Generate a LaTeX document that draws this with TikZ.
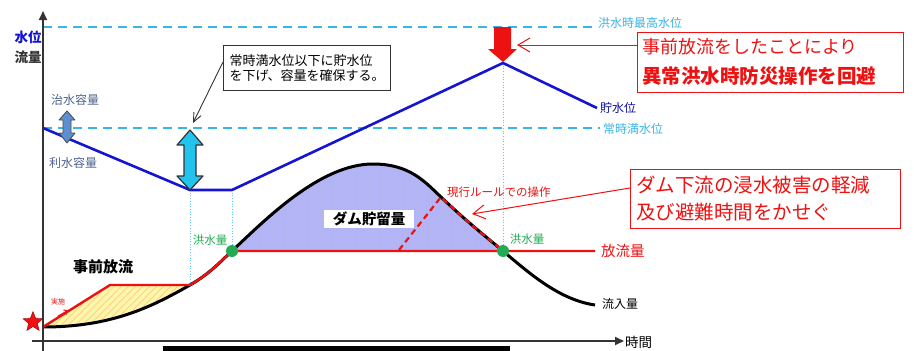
\documentclass[tikz,border=0pt]{standalone}
\usepackage{fontspec}
\newfontfamily\jp{Noto Sans CJK JP}
\usetikzlibrary{arrows.meta,patterns,patterns.meta,shapes.geometric}
\definecolor{wl}{HTML}{1414D2}
\definecolor{lvlc}{HTML}{3CB4E6}
\definecolor{cyanA}{HTML}{22C4EE}
\definecolor{steel}{HTML}{5B8FD0}
\definecolor{grn}{HTML}{22AA55}
\definecolor{lav}{HTML}{B4B6F4}
\definecolor{yel}{HTML}{FFF7A8}
\definecolor{rd}{HTML}{EE1111}
\definecolor{lbl}{HTML}{50648C}
\definecolor{axc}{HTML}{333333}
\tikzset{
  lvlline/.style={lvlc, line width=2pt, dash pattern=on 9pt off 6pt},
  guide/.style={lvlc!80, line width=0.7pt, dotted},
  lab/.style={inner sep=0pt, font=\jp\fontsize{12}{14}\selectfont},
  bigred/.style={inner sep=0pt, align=left, text=rd},
  gdot/.style={circle, fill=grn, minimum size=12pt, inner sep=0pt},
  callout/.style={draw=rd, line width=1pt, fill=white},
}
\begin{document}
\begin{tikzpicture}[x=1pt,y=-1pt]
\useasboundingbox[fill=white] (0,0) rectangle (914,351);

% coordinates
\coordinate (o) at (43,327);
\coordinate (r1) at (110,285);
\coordinate (m1) at (190,285);
\coordinate (g1) at (232,251);
\coordinate (pk) at (373,164);
\coordinate (d1) at (441,197);
\coordinate (g2) at (503,251);
\coordinate (inEnd) at (595,305);
\coordinate (rEnd) at (595,251);
\coordinate (dashStart) at (399,250);

% regions
\fill[yel] (o) -- (r1) -- (m1) .. controls (150,308) and (110,327) .. (o) -- cycle;
\fill[pattern={Lines[angle=45,distance=5pt,line width=0.7pt]}, pattern color=orange!45] (o) -- (r1) -- (m1) .. controls (150,308) and (110,327) .. (o) -- cycle;
\fill[lav] (g1) .. controls (265,220) and (320,164) .. (pk) .. controls (410,164) and (425,182) .. (d1) .. controls (465,220) and (485,236) .. (g2) -- cycle;
\fill[pattern={Lines[angle=90,distance=3pt,line width=0.4pt]}, pattern color=lav!80!blue!70] (g1) .. controls (265,220) and (320,164) .. (pk) .. controls (410,164) and (425,182) .. (d1) .. controls (465,220) and (485,236) .. (g2) -- cycle;

% level lines
\coordinate (hwl0) at (43,27);
\coordinate (hwl1) at (598,27);
\coordinate (nwl0) at (43,128);
\coordinate (nwl1) at (600,128);
\draw[lvlline] (hwl0) -- (hwl1);
\draw[lvlline] (nwl0) -- (nwl1);
\node[lab, text=lvlc, anchor=west] (hwlT) at (598,23) {洪水時最高水位};
\node[lab, text=lvlc, anchor=west] (nwlT) at (603,129) {常時満水位};

% guides
\coordinate (w1) at (190,190);
\coordinate (w2) at (232,190);
\coordinate (w3) at (503,63);
\coordinate (w4) at (597,108);
\draw[guide] (w1) -- (m1);
\draw[guide] (w2) -- (g1);
\draw[guide] (w3) -- (g2);

% water level
\draw[wl, line width=2.6pt, line join=round] (nwl0) -- (w1) -- (w2) -- (w3) -- (w4);
\node[lab, text=wl!80!black, anchor=west] (wlT) at (600,108) {貯水位};

% inflow curve
\draw[black, line width=3pt] (o) .. controls (110,327) and (150,308) .. (m1)
  .. controls (210,273.5) and (220,262) .. (g1)
  .. controls (265,220) and (320,164) .. (pk)
  .. controls (410,164) and (425,182) .. (d1)
  .. controls (465,220) and (485,236) .. (g2)
  .. controls (530,274) and (560,300) .. (inEnd);
\node[lab, anchor=west] (inT) at (602,304) {流入量};

% release line
\draw[rd, line width=2.4pt, line join=round] (o) -- (r1) -- (m1) .. controls (210,273.5) and (220,262) .. (g1) -- (rEnd);
\node[lab, text=rd, anchor=west, font=\jp\fontsize{14.5}{16}\selectfont] (rT) at (601,251) {放流量};

% current-rule dashed
\draw[rd, line width=2.2pt, dash pattern=on 6pt off 4pt] (dashStart) -- (d1) .. controls (465,220) and (485,236) .. (g2);
\node[lab, text=rd, anchor=west, font=\jp\fontsize{11.5}{13}\selectfont] (ruleT) at (447,192) {現行ルールでの操作};

% green dots
\node[gdot] (gd1) at (g1) {};
\node[gdot] (gd2) at (g2) {};
\node[lab, text=grn, font=\jp\fontsize{11.5}{13}\selectfont] (fq1) at (210,240) {洪水量};
\node[lab, text=grn, font=\jp\fontsize{11.5}{13}\selectfont] (fq2) at (527,239) {洪水量};

% storage label
\node[fill=white, inner xsep=9pt, inner ysep=2pt, font=\jp\bfseries\fontsize{14.5}{16}\selectfont] (stor) at (369,219) {ダム貯留量};

% pre-release label
\node[lab, font=\jp\bfseries\fontsize{15}{17}\selectfont] (preT) at (103,267) {事前放流};
\node[lab, text=rd, font=\jp\fontsize{7}{8}\selectfont] (jisshi) at (58,302) {実施};
\coordinate (sa0) at (58,316);
\coordinate (sa1) at (69,310);
\draw[rd, line width=1pt, -{Straight Barb[length=4pt,width=5pt]}] (sa0) -- (sa1);

% star
\node[star, star points=5, star point ratio=2.3, fill=rd, draw=red!60!black, minimum size=21pt, inner sep=0pt] (st) at (33,322) {};

% axes
\coordinate (ya0) at (43,351);
\coordinate (ya1) at (43,11);
\coordinate (xa0) at (32,341);
\coordinate (xa1) at (624,341);
\draw[axc, line width=2pt, -{Triangle[length=9pt,width=8pt]}] (ya0) -- (ya1);
\draw[axc, line width=2pt, -{Triangle[length=9pt,width=8pt]}] (xa0) -- (xa1);
\node[lab, anchor=west, font=\jp\fontsize{13.5}{15}\selectfont] (tT) at (625,342) {時間};
\node[lab, text=wl, font=\jp\bfseries\fontsize{13.5}{15}\selectfont] (yT1) at (28,37) {水位};
\node[lab, text=axc, font=\jp\bfseries\fontsize{13.5}{15}\selectfont] (yT2) at (28,57) {流量};

% capacity labels and small double arrow
\node[lab, text=lbl] (cap1) at (75,100) {治水容量};
\node[lab, text=lbl] (cap2) at (73,163) {利水容量};
\draw[fill=steel, draw=black!70, line width=0.8pt, line join=round]
  (67,111) -- (75,120) -- (71,120) -- (71,133) -- (75,133) -- (67,143) -- (59,133) -- (63,133) -- (63,120) -- (59,120) -- cycle;

% cyan double arrow
\draw[fill=cyanA, draw=black!80, line width=1.2pt, line join=round]
  (190,130) -- (203,145) -- (196,145) -- (196,176) -- (203,176) -- (190,190) -- (177,176) -- (184,176) -- (184,145) -- (177,145) -- cycle;

% callout box (black)
\node[draw=black!80, line width=1pt, fill=white, align=left, inner xsep=6pt, inner ysep=3pt,
      font=\jp\fontsize{13}{15.5}\selectfont, minimum width=160pt, minimum height=45pt, anchor=north west] (box1) at (223,45)
  {常時満水位以下に貯水位\\を下げ、容量を確保する。};
\coordinate (b1tip) at (193,123);
\draw[black!80, line width=0.9pt, -{Straight Barb[length=9pt,width=8pt]}] (box1.west |- 0,62) -- (b1tip);

% red down arrow
\fill[rd] (494,27) -- (511,27) -- (511,49) -- (517,49) -- (503,62) -- (488,49) -- (494,49) -- cycle;

% red callout 1
\node[callout, minimum width=266pt, minimum height=60pt, anchor=north west] (rbox1) at (637,32) {};
\node[bigred, anchor=west, font=\jp\fontsize{18}{20}\selectfont] (r1a) at (642,47) {事前放流をしたことにより};
\node[bigred, anchor=west, font=\jp\bfseries\fontsize{19.5}{21}\selectfont] (r1b) at (642,76) {異常洪水時防災操作を回避};
\coordinate (rb1tip) at (517,45);
\draw[rd, line width=1pt, -{Straight Barb[length=12pt,width=14pt]}] (rbox1.west |- 0,45) -- (rb1tip);

% red callout 2
\node[callout, minimum width=270pt, minimum height=59pt, anchor=north west] (rbox2) at (630,169) {};
\node[bigred, anchor=west, font=\jp\fontsize{19.5}{21}\selectfont] (r2a) at (636,185) {ダム下流の浸水被害の軽減};
\node[bigred, anchor=west, font=\jp\fontsize{19.5}{21}\selectfont] (r2b) at (636,212) {及び避難時間をかせぐ};
\coordinate (rb2tip) at (472,214);
\draw[rd, line width=1pt, -{Straight Barb[length=12pt,width=14pt]}] (rbox2.west |- 0,188) -- (rb2tip);

% bottom bar
\fill[black] (163,346) rectangle (510,351);
\end{tikzpicture}
\end{document}
